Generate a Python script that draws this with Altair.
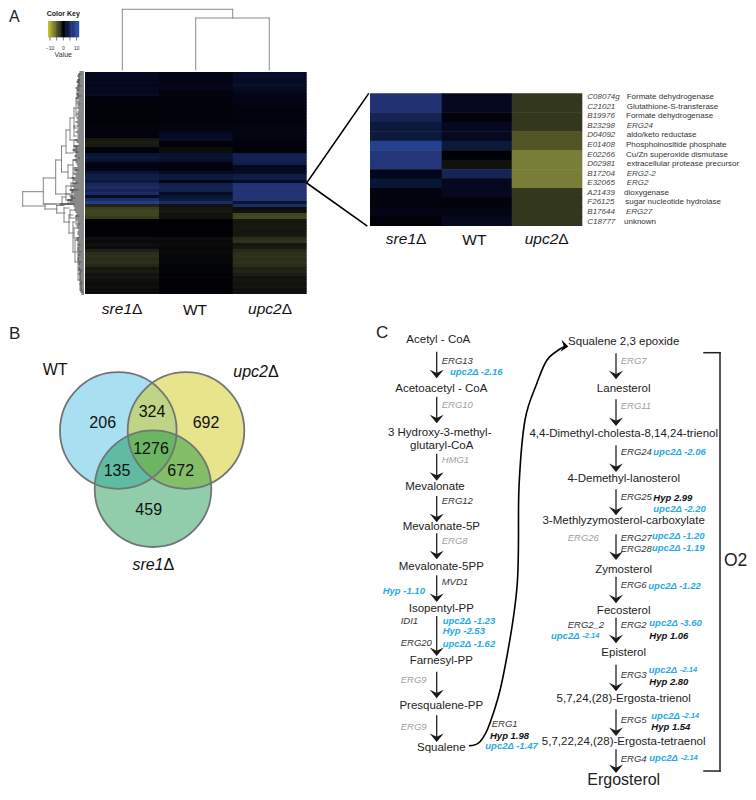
import altair as alt
import pandas as pd

# ---------- data: heat map values (one value per band, top to bottom) ----------
sre1_rows = [1.5,1.6,1.4,1.5,1.3,1.5,1.4,1.8,.6,.4,.3,.3,.2,.2,.3,.2,.2,.3,.5,.6,.6,.4,
             -1.3,-1.6,-1.4,-.2,.1,3,3.5,2.8,1,.8,1,3,4,4.3,3.6,5.5,6,5,6,2,6,8.5,-2,
             -3.5,-4,-3.8,-3.3,-.2,0,0,0,0,-.1,-.8,-.5,-.9,-.6,-1.8,-2.5,-2.7,-2.4,-2.6,-2.2,
             -1.2,-1.5,-1,-1.2,-.9,-.7,-.9,-.6,-.7]
wt_rows = [1,1,1,1,1.2,1.2,.6,.5,.5,.4,.4,.4,.3,.4,.3,.4,.4,.4,.7,.7,1.5,2,2.2,.3,.2,-.7,-.8,
           2.5,2.8,2.3,.8,.5,.5,2,3.5,3.6,1,4.5,4.8,4.5,2,3,3.5,6,-1,-1.2,-1.4,-1,-1,0,0,0,0,0,-.1,
           -.7,-.5,-.6,-.4,-.5,-.5,-.4,-.3,-.3,-.2,-.2,-.2,-.1,-.2,-.1,-.1,-.1,-.1,0]
upc2_rows = [1.8,2.2,1.8,2,2.3,1.8,1.5,1,1,.9,1,.5,.5,.4,.5,.5,.4,.5,.8,.8,.7,.8,.6,.4,.3,.2,.3,
             4.5,4.8,4.6,4.3,1.5,1.5,2,4,4.2,2,7,7.3,7,7.2,7,7,3,6,-.7,-1,-4,-4.2,-1.3,-1.2,-1.4,-1.3,-1.2,
             -1.4,-2.5,-2.8,-1.2,-1.4,-2.3,-2.6,-2.8,-2.5,-2.7,-2.4,-1.8,-1.9,-1.6,-1,-1.2,-1,-1.1,-.9,-1]
detail_sre1 = [7,7,5,3.5,3.5,9,7.5,7.5,1.2,3,.8,.5,1,.2]
detail_wt = [1.5,1.5,.3,1.5,1.5,3.5,.1,-1,5,1.5,1.5,.4,.8,1.5]
detail_upc2 = [-3,-3,-3,-3,-5,-5,-7.5,-7.5,-7.5,-7.5,-3,-3,-3,-3]
detail_ids = ["C08074g","C21021","B19976","B23298","D04092","E01408","E02266","D02981",
              "B17204","E32065","A21439","F26125","B17644","C18777"]
detail_names = ["Formate dehydrogenase","Glutathione-S-transferase","Formate dehydrogenase",
                "ERG24","aldo/keto reductase","Phosphoinositide phosphate",
                "Cu/Zn superoxide dismutase","extracellular protease precursor","ERG2-2","ERG2",
                "dioxygenase","sugar nucleotide hydrolase","ERG27","unknown"]
key_values = list(range(-12, 13))
key_ticks = [-10, -5, 0, 5, 10]
key_labels = ["\u221210", "0", "10"]
strain_labels = ["sre1", "upc2"]

venn_counts = [206, 324, 692, 1276, 135, 672, 459]

left_metabolites = ["Acetyl - CoA","Acetoacetyl - CoA","3 Hydroxy-3-methyl-","glutaryl-CoA","Mevalonate",
                    "Mevalonate-5P","Mevalonate-5PP","Isopentyl-PP","Farnesyl-PP","Presqualene-PP","Squalene"]
right_metabolites = ["Squalene 2,3 epoxide","Lanesterol","4,4-Dimethyl-cholesta-8,14,24-trienol",
                     "4-Demethyl-lanosterol","3-Methlyzymosterol-carboxylate","Zymosterol","Fecosterol",
                     "Episterol","5,7,24,(28)-Ergosta-trienol","5,7,22,24,(28)-Ergosta-tetraenol"]
dark_genes = ["ERG13","ERG12","MVD1","IDI1","ERG20","ERG1","ERG24","ERG25","ERG27","ERG28","ERG6",
              "ERG2_2","ERG2","ERG3","ERG5","ERG4"]
gray_genes = ["ERG10","HMG1","ERG8","ERG9","ERG9","ERG7","ERG11","ERG26"]
blue_notes = ["upc2\u0394 -2.16","Hyp -1.10","upc2\u0394 -1.23","Hyp  -2.53","upc2\u0394 -1.62","upc2\u0394 -1.47",
              "upc2\u0394 -2.06","upc2\u0394 -2.20","upc2\u0394 -1.20","upc2\u0394 -1.19","upc2\u0394 -1.22","upc2\u0394 -3.60",
              "upc2\u0394","upc2\u0394","upc2\u0394","upc2\u0394"]
small_notes = ["-2.14","-2.14","-2.14","-2.14"]
black_notes = ["Hyp 1.98","Hyp 2.99","Hyp 1.06","Hyp 2.80","Hyp 1.54"]

# ---------- layout (page pixels) ----------
HEAT_X = [85, 159, 232.7, 306.7]
HEAT_TOP, HEAT_ROW = 72, 3
DETAIL_X = [370, 441.7, 511.7, 582.3]
DETAIL_TOP, DETAIL_ROW = 93.3, 9.48
DETAIL_ID_X = 587.3
DETAIL_NAME_X = [626.7,626.7,626,626.7,626.7,626,626,626.7,626.7,626.7,624,625.3,626,624]
DETAIL_TEXT_Y = [97.3,107,116.3,126,135.3,145,154.7,164.3,174,183.3,193,202.3,212,221.7]
ITALIC_NAMES = {"ERG24","ERG2-2","ERG2","ERG27"}

top_dendro = [(122.3,70,122.3,9.3),(122.3,9.3,232.7,9.3),(232.7,9.3,232.7,18),
              (195.7,70,195.7,18),(195.7,18,269.3,18),(269.3,18,269.3,70)]
bracket_o2 = [(704,352.7,720,352.7),(720,352.7,720,771),(720,771,704,771)]
zoom_lines = [(306.7,183,368.3,94),(306.7,183,366.7,225.7)]

# x of the vertical, its y span, x reached by the upper and lower arm
dendro_brackets = [
    (22.7,191.7,206,43.3,45),(43.3,178,204,55.7,62),(55.7,160,194,61.5,66),(61.5,146,172,66,68),
    (66,130,153,70,73),(70,118,140,74,76),(74,108,128,77,78),(76,98,116,78,79),(77,90,104,79,80),
    (78,80,96,80,81),(79,74,86,81,81),(68,165,178,73,74),(73,160,170,77,78),(73,172,183,76,78),
    (66,186,194,71,72),(71,183,190,76,78),(72,190,198,74,75),(62,197,204,66,68),(66,194,200,70,72),
    (68,200,204,72,74),(74,140,152,77,78),(76,146,158,78,79),(74,126,136,78,79),
    (45,204,209,56.7,57),(56.7,205.5,213,64,65),(64,208,222,69,70),(69,215,233,73,74),
    (73,222,252,75,78),(75,240,262,78,78),(78,255,280,80,80),(80,272,290,81,82),(70,210,218,75,76),
    (74,228,238,78,79),(78,245,252,80,81),(79,262,270,81,82),(81,282,292,82,83),(76,216,224,79,80),
]
leaf_y = [72,74,76,78,80,82,84,86,88,90,92,94,96,98,100,102,104,106,108,110,112,114,116,118,120,122,124,126,
          128,130,132,134,136,138,140,142,144,146,148,150,152,154,156,158,160,162,164,166,168,170,172,174,176,
          178,180,182,184,186,188,190,192,194,196,198,200,202,204,206,208,210,212,214,216,218,220,222,224,226,
          228,230,232,234,236,238,240,242,244,246,248,250,252,254,256,258,260,262,264,266,268,270,272,274,276,
          278,280,282,284,286,288,290,292,294]
leaf_x = [80,79,78,79,78,77,79,78,76,78,79,77,78,77,79,78,79,78,78,79,78,77,79,77,78,76,78,78,
          79,78,76,78,79,78,76,77,79,74,76,73,76,77,75,78,74,76,77,78,74,75,77,74,76,
          72,74,76,73,72,74,70,72,74,70,71,68,70,60,74,75,75,76,77,76,77,77,78,78,77,
          78,79,78,78,79,77,77,78,78,79,78,78,79,78,79,78,78,79,79,80,79,79,80,79,80,
          80,80,81,80,81,81,81,82,82]

KEY_X0, KEY_CELL, KEY_TOP, KEY_BOTTOM = 48, 1.228, 21, 37.3
KEY_LABEL_X = [50, 63.3, 76.7]

VENN_CX = [118.3, 186, 153]
VENN_CY = [430.5, 430.5, 488.7]
VENN_SIZE = 13600
VENN_FILL = ["#6fcbe8", "#d3cc26", "#008a3c"]
VENN_ALPHA = [0.6, 0.53, 0.43]
VENN_TEXT_X = [102.7,152,206,151,117,180.7,148.7]
VENN_TEXT_Y = [423.3,411.7,423.3,448.7,470.7,470.7,510.3]

LEFT_MET_X = [438.3,441.3,439.7,441.7,435,441.3,441.3,441.3,441.3,441.3,441.3]
LEFT_MET_Y = [340,389.3,432.7,446,486.7,527.3,567,608.7,661.3,706,748.3]
RIGHT_MET_X = 623.7
RIGHT_MET_Y = [342.3,389.3,433.7,479,520.7,570,610.7,653.3,699.3,742]
LEFT_STEM_X, RIGHT_STEM_X = 436.7, 616
LEFT_ARROWS = [(352.3,378.3),(397.3,423.3),(454.3,480.7),(496.7,522.3),(534,559.3),(576,602),(616.7,656),(672.3,698.3),(716,742)]
RIGHT_ARROWS = [(354,379.3),(400,426),(446,472),(490,515.3),(535,560),(577.3,603.3),(618.3,643.3),(665.3,691.3),(710,736),(750,773)]
ARROW_PATH = "M0,0.72L-1,-0.5L0,-0.05L1,-0.5Z"

dark_x = [441.7,441.7,441.7,400.7,400.7,491.7,620.7,620.7,620.7,620.7,620.7,567.7,620.7,620.7,620.7,620.7]
dark_y = [360.7,500.7,582,621.3,643.3,724,452,497.3,537.7,548.7,585,625.3,625.3,675.3,719.7,759.3]
gray_x = [441.7,441.7,441.7,400.7,400.7,620.7,620.7,567.7]
gray_y = [404.7,460.3,540.7,680,727.3,360.7,406.3,538.3]
blue_x = [450,382.7,442.7,442.7,442.7,485.3,653.3,653.3,652,652,648.3,649.3,551,648.7,651.3,649.3]
blue_y = [371.7,590.7,621,631,643.7,746.3,452.3,509,536,548.3,586,623,636,669.7,716.3,758.3]
small_x = [582.3,680,682,680.7]
small_y = [636,669.7,716.3,758.3]
black_x = [490,653.3,649.3,649.3,651.3]
black_y = [735.7,497.7,636.3,682.3,727]
curve_x = [469,480,490,503,517,519,525,537,547,560,566]
curve_y = [745.7,741.7,723,677,587,487,420,383,360,349,346.5]

PLOT_W, PLOT_H = 740, 780
FONT = "Liberation Sans"
X = alt.X("x:Q", scale=alt.Scale(domain=[8, 8 + PLOT_W], nice=False, zero=False), axis=None)
Y = alt.Y("y:Q", scale=alt.Scale(domain=[8 + PLOT_H, 8], nice=False, zero=False), axis=None)


def texts(labels, xs, ys, size, color="#222222", style="normal", weight="normal", align="center"):
    if not isinstance(xs, (list, tuple)):
        xs = [xs] * len(labels)
    df = pd.DataFrame({"t": [str(v) for v in labels], "x": xs, "y": ys})
    return alt.Chart(df).mark_text(font=FONT, fontSize=size, color=color, fontStyle=style,
                                   fontWeight=weight, align=align, baseline="middle").encode(x=X, y=Y, text="t:N")


def segments(segs, color, width):
    df = pd.DataFrame(segs, columns=["x", "y", "x2", "y2"])
    return alt.Chart(df).mark_rule(color=color, strokeWidth=width, strokeCap="square").encode(
        x=X, y=Y, x2="x2:Q", y2="y2:Q")


heat_scale = alt.Scale(domain=[-12, -7.5, -5, -3, 0, 1.5, 3.5, 7, 9, 12],
                       range=["#c3c328", "#787d37", "#505523", "#32371e", "#000005", "#05081e",
                              "#0a193c", "#233273", "#23418c", "#2850a5"], interpolate="rgb")


def heat(columns, col_x, top, row_h):
    recs = []
    n = len(columns[0])
    for c, col in enumerate(columns):
        for r, v in enumerate(col):
            recs.append({"x": col_x[c], "x2": col_x[c + 1] + (0.6 if c < len(columns) - 1 else 0), "y": top + r * row_h,
                         "y2": top + (r + 1) * row_h + (0.6 if r < n - 1 else 0), "v": v, "o": r})
    return alt.Chart(pd.DataFrame(recs)).mark_rect().encode(
        x=X, y=Y, x2="x2:Q", y2="y2:Q", color=alt.Color("v:Q", scale=heat_scale, legend=None),
        order=alt.Order("o:Q"))


def arrows(stem_x, spans):
    stems = segments([(stem_x, a, stem_x, b - 4) for a, b in spans], "#222222", 1.3)
    heads = alt.Chart(pd.DataFrame({"x": [stem_x] * len(spans), "y": [b - 5 for _, b in spans]})).mark_point(
        shape=ARROW_PATH, size=196, filled=True, fill="#1a1a1a", opacity=1, strokeWidth=0).encode(x=X, y=Y)
    return [stems, heads]


layers = []

# panel letters
layers += [texts(["A"], [9], [17], 16, align="left"), texts(["B"], [9], [333.5], 17, align="left"),
           texts(["C"], [376], [333], 17, align="left")]

# colour key
key_df = pd.DataFrame({"x": [KEY_X0 + i * KEY_CELL for i in range(len(key_values))],
                       "x2": [KEY_X0 + (i + 1) * KEY_CELL + 0.5 for i in range(len(key_values))],
                       "y": KEY_TOP, "y2": KEY_BOTTOM, "v": key_values})
layers.append(alt.Chart(key_df).mark_rect().encode(x=X, y=Y, x2="x2:Q", y2="y2:Q",
              color=alt.Color("v:Q", scale=heat_scale, legend=None)))
layers.append(segments([(63.3 + t * 1.33, KEY_BOTTOM, 63.3 + t * 1.33, 40) for t in key_ticks], "#444444", 0.7))
layers.append(texts(["Color Key"], [63.3], [14.3], 7, color="#222222", weight="bold"))
layers.append(texts(key_labels, KEY_LABEL_X, [48, 48, 48], 5, color="#333333"))
layers.append(texts(["Value"], [63.3], [54.7], 7, color="#333333"))

# dendrograms
layers.append(segments(top_dendro, "#8a8a8a", 1))
bracket_segs = []
for bx, y0, y1, xa, xb in dendro_brackets:
    bracket_segs += [(bx, y0, bx, y1), (bx, y0, xa, y0), (bx, y1, xb, y1)]
layers.append(segments(bracket_segs, "#777777", 0.9))
layers.append(segments([(x, y, 83.5, y) for x, y in zip(leaf_x, leaf_y)], "#2a2a2a", 1.1))

# heat maps
layers.append(heat([sre1_rows, wt_rows, upc2_rows], HEAT_X, HEAT_TOP, HEAT_ROW))
layers.append(heat([detail_sre1, detail_wt, detail_upc2], DETAIL_X, DETAIL_TOP, DETAIL_ROW))
layers.append(segments(zoom_lines, "#000000", 1.6))

# column labels
for dy, size, sx, ux, wtx in [(308.5, 15.5, 132, 281.7, 195), (239.3, 15.5, 416, 558.3, 474.3)]:
    layers.append(texts(strain_labels, [sx, ux], [dy, dy], size, color="#111111", style="italic", align="right"))
    layers.append(texts(["\u0394", "\u0394"], [sx, ux], [dy, dy], size, color="#111111", align="left"))
    layers.append(texts(["WT"], [wtx], [dy + 1], size, color="#111111"))

# detail table
italic_idx = [i for i, n in enumerate(detail_names) if n in ITALIC_NAMES]
plain_idx = [i for i, n in enumerate(detail_names) if n not in ITALIC_NAMES]
layers.append(texts(detail_ids, DETAIL_ID_X, DETAIL_TEXT_Y, 8, color="#444444", style="italic", align="left"))
layers.append(texts([detail_names[i] for i in plain_idx], [DETAIL_NAME_X[i] for i in plain_idx],
                    [DETAIL_TEXT_Y[i] for i in plain_idx], 8, color="#333333", align="left"))
layers.append(texts([detail_names[i] for i in italic_idx], [DETAIL_NAME_X[i] for i in italic_idx],
                    [DETAIL_TEXT_Y[i] for i in italic_idx], 8, color="#444444", style="italic", align="left"))

# venn
for i in range(3):
    layers.append(alt.Chart(pd.DataFrame({"x": [VENN_CX[i]], "y": [VENN_CY[i]]})).mark_point(
        shape="circle", filled=True, size=VENN_SIZE, fill=VENN_FILL[i], fillOpacity=VENN_ALPHA[i],
        opacity=1, strokeWidth=0).encode(x=X, y=Y))
layers.append(alt.Chart(pd.DataFrame({"x": VENN_CX, "y": VENN_CY})).mark_point(
    shape="circle", filled=False, size=VENN_SIZE, stroke="#6f7676", strokeWidth=1.8, opacity=1).encode(x=X, y=Y))
layers.append(texts(venn_counts, VENN_TEXT_X, VENN_TEXT_Y, 16, color="#111111"))
layers.append(texts(["WT"], [55.2], [370], 16, color="#111111"))
layers.append(texts(["upc2"], [268], [371.7], 16, color="#111111", style="italic", align="right"))
layers.append(texts(["\u0394"], [268], [371.7], 16, color="#111111", align="left"))
layers.append(texts(["sre1"], [163.5], [565], 16, color="#111111", style="italic", align="right"))
layers.append(texts(["\u0394"], [163.5], [565], 16, color="#111111", align="left"))

# pathway
layers += arrows(LEFT_STEM_X, LEFT_ARROWS)
layers += arrows(RIGHT_STEM_X, RIGHT_ARROWS)
layers.append(texts(left_metabolites, LEFT_MET_X, LEFT_MET_Y, 11.5))
layers.append(texts(right_metabolites, RIGHT_MET_X, RIGHT_MET_Y, 11.5))
layers.append(texts(["Ergosterol"], [RIGHT_MET_X], [780], 16))
layers.append(texts(dark_genes, dark_x, dark_y, 9.5, color="#333333", style="italic", align="left"))
layers.append(texts(gray_genes, gray_x, gray_y, 9.5, color="#a0a0a0", style="italic", align="left"))
layers.append(texts(blue_notes, blue_x, blue_y, 9.5, color="#29abe2", style="italic", weight="bold", align="left"))
layers.append(texts(small_notes, small_x, small_y, 7.5, color="#29abe2", style="italic", weight="bold", align="left"))
layers.append(texts(black_notes, black_x, black_y, 9.5, color="#111111", style="italic", weight="bold", align="left"))
layers.append(alt.Chart(pd.DataFrame({"x": curve_x, "y": curve_y})).mark_line(
    interpolate="cardinal", color="#000000", strokeWidth=1.6).encode(x=X, y=Y))
layers.append(alt.Chart(pd.DataFrame({"x": [564], "y": [346], "a": [275]})).mark_point(
    shape=ARROW_PATH, size=144, filled=True, fill="#000000", opacity=1, strokeWidth=0).encode(
    x=X, y=Y, angle=alt.Angle("a:Q", scale=None)))
layers.append(segments(bracket_o2, "#222222", 1.5))
layers.append(texts(["O2"], [724], [561], 17.5, color="#222222", align="left"))

chart = alt.layer(*layers).properties(
    width=PLOT_W, height=PLOT_H, padding=0, autosize=alt.AutoSizeParams(type="none"), background="white"
).configure_view(stroke=None)

chart.save("out.html", embed_options={"renderer": "svg", "actions": False})
